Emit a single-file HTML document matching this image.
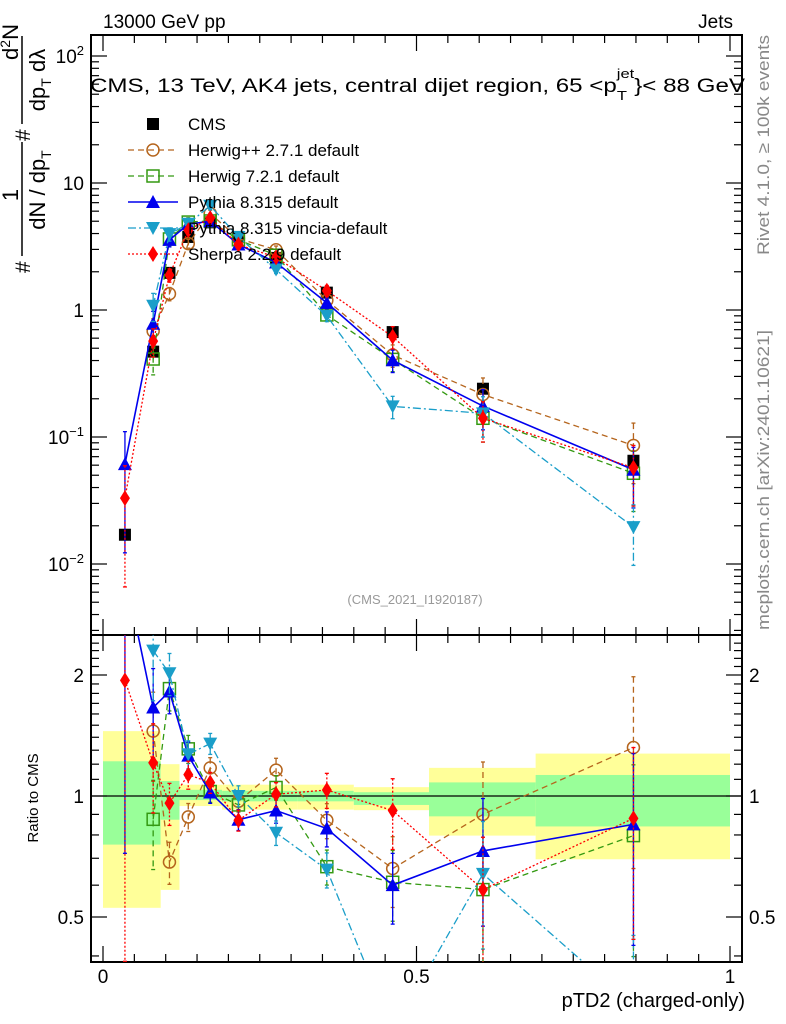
<!DOCTYPE html>
<html><head><meta charset="utf-8">
<style>
html,body{margin:0;padding:0;background:#fff;overflow:hidden;width:786px;height:1024px;}
svg{display:block;font-family:"Liberation Sans",Arial,sans-serif;}
</style></head>
<body>
<svg id="chart" width="786" height="1024" viewBox="0 0 786 1024" xmlns="http://www.w3.org/2000/svg">
  <g id="bands"></g>
  <rect x="91" y="35" width="651" height="600" fill="none" stroke="#000" stroke-width="2"/>
  <rect x="91" y="635" width="651" height="327" fill="none" stroke="#000" stroke-width="2"/>
  <g id="ticks"></g>
  <g id="marks"></g>
  <text x="103" y="28" font-size="19">13000 GeV pp</text>
  <text x="733" y="28" font-size="19" text-anchor="end">Jets</text>
  <text x="90" y="92" font-size="19" textLength="655" lengthAdjust="spacingAndGlyphs">CMS, 13 TeV, AK4 jets, central dijet region, 65 &lt;p<tspan font-size="13" dy="8">T</tspan><tspan font-size="13" dy="-22" dx="-8">jet</tspan><tspan dy="14">}&lt; 88 GeV</tspan></text>
  <text x="415" y="604" font-size="13" fill="#999" text-anchor="middle">(CMS_2021_I1920187)</text>
  <text transform="translate(769,145) rotate(-90)" font-size="17" fill="#888" text-anchor="middle" textLength="220" lengthAdjust="spacingAndGlyphs">Rivet 4.1.0, ≥ 100k events</text>
  <text transform="translate(769,480) rotate(-90)" font-size="17" fill="#888" text-anchor="middle" textLength="300" lengthAdjust="spacingAndGlyphs">mcplots.cern.ch [arXiv:2401.10621]</text>
  <g font-size="22">
    <line x1="22" y1="36" x2="22" y2="262" stroke="#000" stroke-width="1.5"/>
    <text transform="translate(18,195) rotate(-90)" text-anchor="middle">1</text>
    <text transform="translate(18,42) rotate(-90)" text-anchor="middle">d<tspan font-size="14" dy="-8">2</tspan><tspan dy="8">N</tspan></text>
    <rect x="13" y="124" width="18" height="18" fill="#fff"/>
    <rect x="13" y="256" width="18" height="18" fill="#fff"/>
    <text transform="translate(30,273) rotate(-90)" text-anchor="start" font-size="21">#</text>
    <text transform="translate(30,141) rotate(-90)" text-anchor="start" font-size="21">#</text>
    <text transform="translate(45,190) rotate(-90)" text-anchor="middle">dN / dp<tspan font-size="14" dy="6">T</tspan></text>
    <text transform="translate(45,80) rotate(-90)" text-anchor="middle">dp<tspan font-size="14" dy="6">T</tspan><tspan dy="-6"> dλ</tspan></text>
  </g>
  <text transform="translate(38,798) rotate(-90)" font-size="15" text-anchor="middle">Ratio to CMS</text>
  <text x="745" y="1007" font-size="20" text-anchor="end">pTD2 (charged-only)</text>
  <g id="legend"></g>
</svg>
<script>
const xs = [0.035,0.08,0.106,0.136,0.171,0.216,0.276,0.357,0.462,0.606,0.846];
const cmsVals = [0.017,0.47,1.96,3.76,4.9,3.76,2.57,1.37,0.67,0.24,0.065];
const cmsErr = [0.1,0.08,0.05,0.04,0.03,0.03,0.03,0.04,0.05,0.08,0.12];
const bandEdges = [0,0.092,0.122,0.19,0.31,0.40,0.52,0.69,1.0];
const yellowHi = [1.45,1.20,1.067,1.067,1.067,1.052,1.175,1.275];
const yellowLo = [0.527,0.584,0.944,0.925,0.925,0.922,0.797,0.696];
const greenHi = [1.22,1.09,1.036,1.03,1.03,1.022,1.081,1.128];
const greenLo = [0.757,0.873,0.977,0.97,0.97,0.95,0.890,0.840];
const herwigppRatio = [null,1.45,0.685,0.887,1.175,0.97,1.16,0.87,0.66,0.90,1.32];
const herwig7Ratio = [null,0.875,1.85,1.31,1.026,0.95,1.05,0.667,0.61,0.585,0.797];
const pythiaRatio = [3.6,1.66,1.82,1.26,1.02,0.873,0.92,0.83,0.60,0.73,0.85];
const vinciaRatio = [null,2.3,2.02,1.27,1.35,1.0,0.81,0.656,0.26,0.64,0.30];
const sherpaRatio = [1.94,1.21,0.96,1.13,1.08,0.87,1.01,1.035,0.92,0.585,0.88];
const modelErr = [0.8,0.25,0.12,0.08,0.06,0.06,0.07,0.1,0.2,0.35,0.5];
const mainTicks = [0.01,0.1,1,10,100];
const ratioTicks = [0.5,1,2];
const xTicks = [0,0.5,1];

const NS='http://www.w3.org/2000/svg';
function el(tag,attrs,parent){const e=document.createElementNS(NS,tag);for(const k in attrs)e.setAttribute(k,attrs[k]);parent.appendChild(e);return e;}
const X = v => 103 + 627*v;
const Y = v => 310 - 127*Math.log10(v);
const R = v => 796 - 121*Math.log2(v);

const bands=document.getElementById('bands');
for(let i=0;i<yellowHi.length;i++){
  const x0=X(bandEdges[i]), w=X(bandEdges[i+1])-x0;
  const y=el('rect',{x:x0,y:R(yellowHi[i]),width:w,height:R(yellowLo[i])-R(yellowHi[i]),fill:'#ffff99'},bands);
  
  
  const g=el('rect',{x:x0,y:R(greenHi[i]),width:w,height:R(greenLo[i])-R(greenHi[i]),fill:'#99ff99'},bands);
  
  
}

const tk=document.getElementById('ticks');
for(let i=0;i<=20;i++){
  const v=i*0.05, x=X(v), big=(i%10===0);
  const L=big?16:8;
  el('line',{x1:x,y1:635,x2:x,y2:635-L,stroke:'#000','stroke-width':1.2},tk);
  el('line',{x1:x,y1:962,x2:x,y2:962-L,stroke:'#000','stroke-width':1.2},tk);
  el('line',{x1:x,y1:35,x2:x,y2:35+L,stroke:'#000','stroke-width':1.2},tk);
  el('line',{x1:x,y1:635,x2:x,y2:635+L,stroke:'#000','stroke-width':1.2},tk);
}
xTicks.forEach(v=>{
  const t=el('text',{x:X(v),y:983,'font-size':19,'text-anchor':'middle'},tk);
  t.textContent=String(v);
  
  
});
for(let d=-3;d<=2;d++){
  for(let m=1;m<10;m++){
    const v=m*Math.pow(10,d), y=Y(v);
    if(y<36||y>634)continue;
    const L=(m===1)?16:8;
    el('line',{x1:91,y1:y,x2:91+L,y2:y,stroke:'#000','stroke-width':1.2},tk);
    el('line',{x1:742,y1:y,x2:742-L,y2:y,stroke:'#000','stroke-width':1.2},tk);
  }
}
mainTicks.forEach(v=>{
  const t=el('text',{x:84,y:Y(v)+7,'font-size':19,'text-anchor':'end'},tk);
  if(v===0.01){t.innerHTML='10<tspan font-size="13" dy="-8">−2</tspan>';}
  else if(v===0.1){t.innerHTML='10<tspan font-size="13" dy="-8">−1</tspan>';}
  else if(v===100){t.innerHTML='10<tspan font-size="13" dy="-8">2</tspan>';}
  else t.textContent=String(v);
  
  
});
for(let k=3;k<=25;k++){
  const v=k/10, y=R(v);
  if(y<637||y>960)continue;
  const L=(v===0.5||v===1||v===2)?16:8;
  el('line',{x1:91,y1:y,x2:91+L,y2:y,stroke:'#000','stroke-width':1.2},tk);
  el('line',{x1:742,y1:y,x2:742-L,y2:y,stroke:'#000','stroke-width':1.2},tk);
}
ratioTicks.forEach(v=>{
  const a=el('text',{x:84,y:R(v)+7,'font-size':19,'text-anchor':'end'},tk);
  a.textContent=String(v);
  
  
  const b=el('text',{x:749,y:R(v)+7,'font-size':19},tk);
  b.textContent=String(v);
  
  
});
el('line',{x1:91,y1:R(1),x2:742,y2:R(1),stroke:'#000','stroke-width':1.3},tk);

const marks=document.getElementById('marks');
function marker(type,x,y,color,parent){
  let e;
  if(type==='square') e=el('rect',{x:x-6,y:y-6,width:12,height:12,fill:color},parent);
  else if(type==='osquare') e=el('rect',{x:x-6,y:y-6,width:12,height:12,fill:'none',stroke:color,'stroke-width':1.5},parent);
  else if(type==='ocircle') e=el('circle',{cx:x,cy:y,r:6,fill:'none',stroke:color,'stroke-width':1.5},parent);
  else if(type==='tri') e=el('polygon',{points:`${x},${y-7} ${x-7},${y+6} ${x+7},${y+6}`,fill:color},parent);
  else if(type==='itri') e=el('polygon',{points:`${x},${y+7} ${x-7},${y-6} ${x+7},${y-6}`,fill:color},parent);
  else e=el('polygon',{points:`${x},${y-8} ${x-5},${y} ${x},${y+8} ${x+5},${y}`,fill:color},parent);
  return e;
}
const models=[
  {name:'herwigpp',label:'Herwig++ 2.7.1 default',ratio:herwigppRatio,color:'#b5651d',dash:'6,4',m:'ocircle',w:1.3},
  {name:'herwig7',label:'Herwig 7.2.1 default',ratio:herwig7Ratio,color:'#339911',dash:'6,4',m:'osquare',w:1.3},
  {name:'pythia',label:'Pythia 8.315 default',ratio:pythiaRatio,color:'#0000ee',dash:'',m:'tri',w:1.6},
  {name:'vincia',label:'Pythia 8.315 vincia-default',ratio:vinciaRatio,color:'#1a9ec9',dash:'8,3,2,3',m:'itri',w:1.3},
  {name:'sherpa',label:'Sherpa 2.2.9 default',ratio:sherpaRatio,color:'#ff0000',dash:'2,2',m:'diamond',w:1.3}
];
const mainClip=el('clipPath',{id:'mc'},marks); el('rect',{x:91,y:35,width:651,height:600},mainClip);
const ratClip=el('clipPath',{id:'rc'},marks); el('rect',{x:91,y:635,width:651,height:327},ratClip);
const gMain=el('g',{'clip-path':'url(#mc)'},marks);


const gRat=el('g',{'clip-path':'url(#rc)'},marks);



xs.forEach((x,i)=>{
  const v=cmsVals[i];
  el('line',{x1:X(x),y1:Y(v*(1+cmsErr[i])),x2:X(x),y2:Y(v*(1-cmsErr[i])),stroke:'#000','stroke-width':1.5},gMain);
  const m=marker('square',X(x),Y(v),'#000',gMain);
  
  
});
models.forEach(md=>{
  const ptsM=[],ptsR=[];
  xs.forEach((x,i)=>{
    const r=md.ratio[i]; if(r===null)return;
    const v=r*cmsVals[i], e=modelErr[i];
    ptsM.push([X(x),Y(v),Y(v*(1+e)),Y(Math.max(v*(1-e),1e-4))]);
    ptsR.push([X(x),R(r),R(r*(1+e)),R(Math.max(r*(1-e),0.2))]);
  });
  [[gMain,ptsM],[gRat,ptsR]].forEach(([g,pts])=>{
    const line=el('polyline',{points:pts.map(p=>p[0]+','+p[1]).join(' '),fill:'none',stroke:md.color,'stroke-width':md.w,'stroke-dasharray':md.dash},g);
    
    
    pts.forEach(p=>{
      el('line',{x1:p[0],y1:p[2],x2:p[0],y2:p[3],stroke:md.color,'stroke-width':1.3,'stroke-dasharray':md.dash},g);
      el('line',{x1:p[0]-2,y1:p[2],x2:p[0]+2,y2:p[2],stroke:md.color,'stroke-width':1.3},g);
      el('line',{x1:p[0]-2,y1:p[3],x2:p[0]+2,y2:p[3],stroke:md.color,'stroke-width':1.3},g);
      const mk=marker(md.m,p[0],p[1],md.color,g);
      
      
    });
  });
});

const lg=document.getElementById('legend');
const rows=[{label:'CMS',m:'square',color:'#000',dash:null}].concat(models.map(m=>({label:m.label,m:m.m,color:m.color,dash:m.dash,w:m.w})));
rows.forEach((r,i)=>{
  const y=124+i*26;
  const g=el('g',{},lg);
  
  
  if(r.dash!==null) el('line',{x1:128,y1:y,x2:178,y2:y,stroke:r.color,'stroke-width':r.w,'stroke-dasharray':r.dash},g);
  marker(r.m,153,y,r.color,g);
  const t=el('text',{x:188,y:y+6,'font-size':17},g);
  t.textContent=r.label;
});
</script>
</body></html>
